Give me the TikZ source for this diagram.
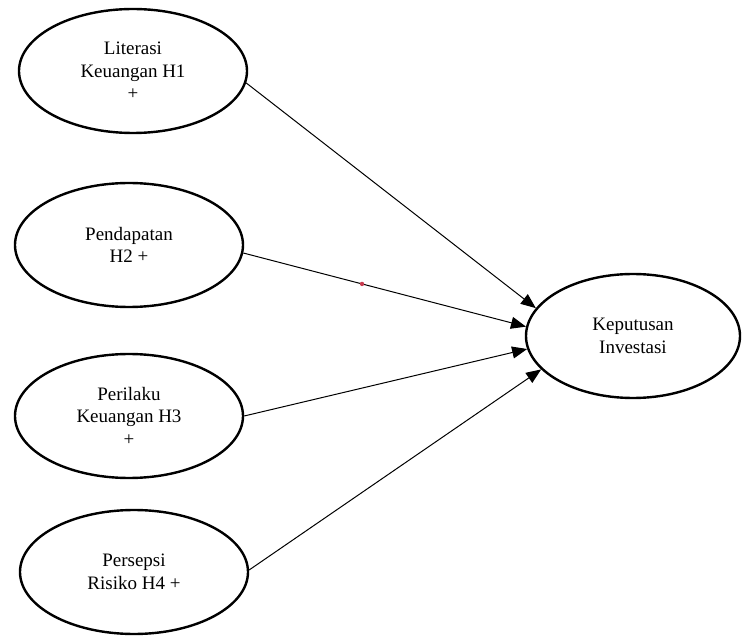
\documentclass[tikz,border=0pt]{standalone}
\usepackage{fontspec}
\setmainfont{Liberation Serif}
\usetikzlibrary{shapes.geometric,arrows.meta}
\definecolor{dotred}{RGB}{200,60,80}

\begin{document}
\begin{tikzpicture}[x=1pt,y=-1pt,
	var/.style={ellipse,draw,line width=2.4pt,minimum width=228pt,minimum height=124pt,inner sep=0pt,align=center,font=\fontsize{19}{22.5}\selectfont},
	arr/.style={line width=1pt,-{Triangle[length=15pt,width=12pt]}}]

	\useasboundingbox (0,0) rectangle (742,636);

	\node[var] (h1) at (133,71) {Literasi\\Keuangan H1\\+};
	\node[var] (h2) at (129,245) {Pendapatan\\H2 +};
	\node[var] (h3) at (129,416) {Perilaku\\Keuangan H3\\+};
	\node[var] (h4) at (134,572) {Persepsi\\Risiko H4 +};
	\node[var,minimum width=214pt] (kep) at (633,336) {Keputusan\\Investasi};

	\draw[arr] (h1.-6) -- (kep.164);
	\draw[arr] (h2.-4) -- coordinate[pos=.42] (dot) (kep.175);
	\draw[arr] (h3.east) -- (kep.187);
	\draw[arr] (h4.1) -- (kep.200);
	\fill[dotred] (dot) circle (2.2);
\end{tikzpicture}
\end{document}
